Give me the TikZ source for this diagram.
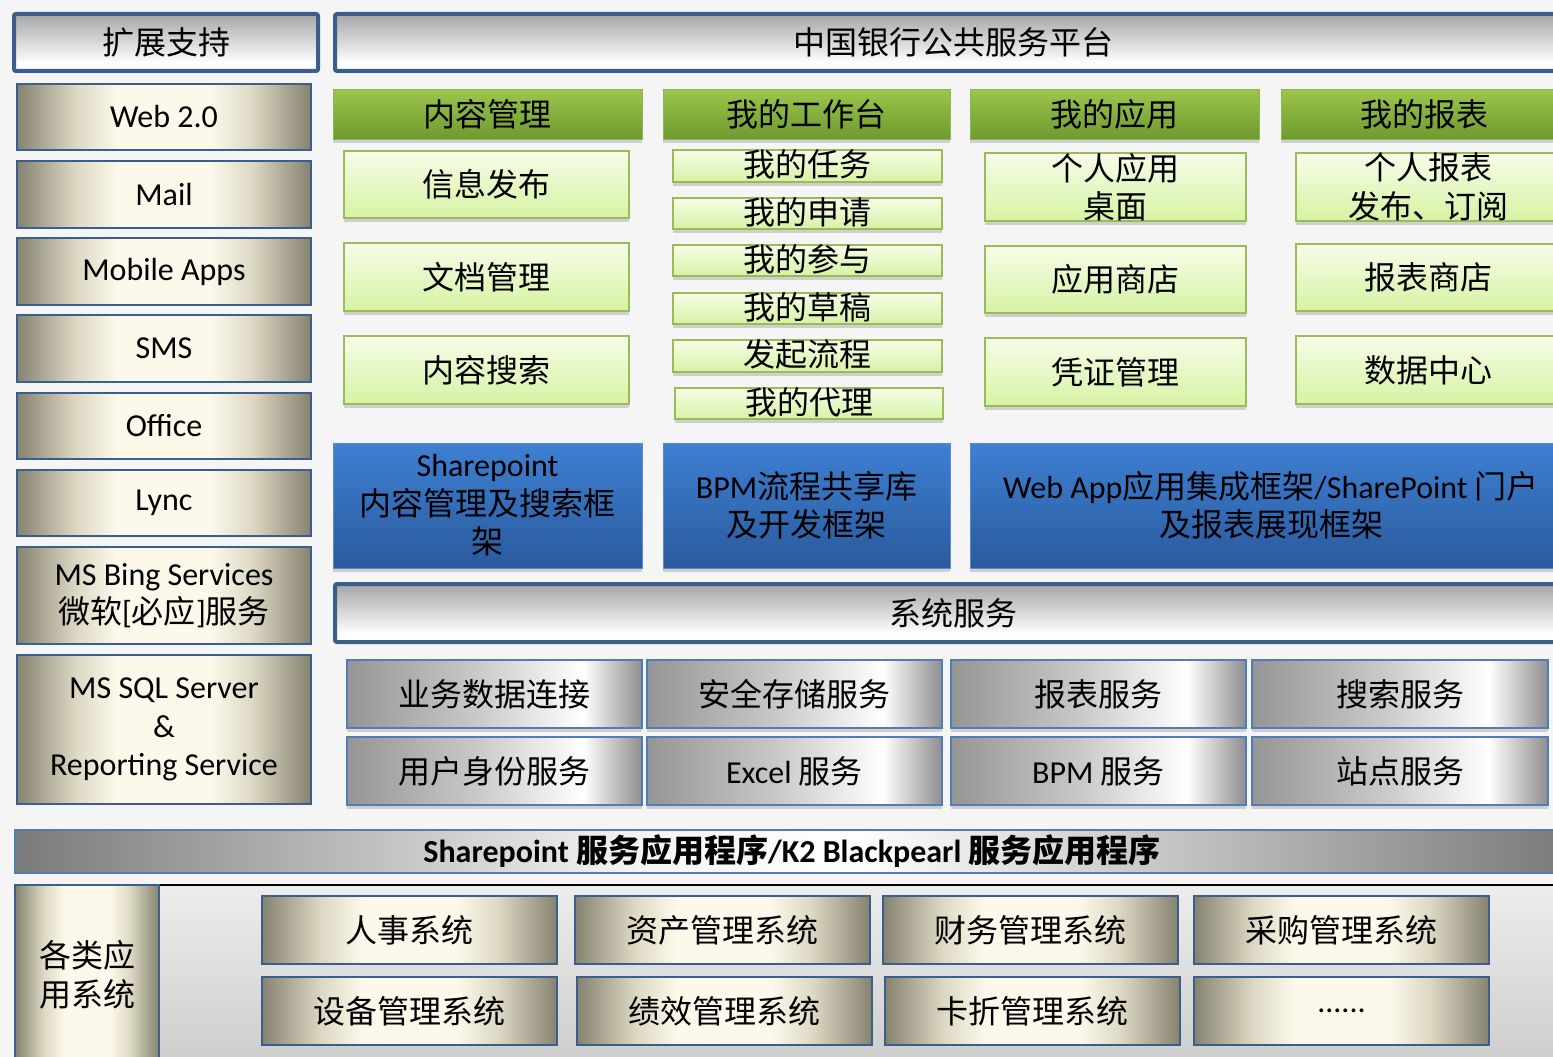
\documentclass[tikz,border=0pt]{standalone}
\usepackage{fontspec}
\setmainfont{Carlito}
\newfontfamily\cjkf{Noto Sans CJK SC}
\newcommand\zh[1]{{\cjkf #1}}
\newcommand\fs{\fontsize{32}{38.5}\selectfont}
\usetikzlibrary{shadows}
\definecolor{bordblue}{HTML}{3B5E8C}
\definecolor{lineblue}{HTML}{4F7DBA}
\definecolor{creamd}{HTML}{858270}
\definecolor{creamm}{HTML}{DCD8C3}
\definecolor{creaml}{HTML}{FCF9EB}
\definecolor{greent}{HTML}{9CC64C}
\definecolor{greenb}{HTML}{6E9A30}
\definecolor{greenbord}{HTML}{8DB551}
\definecolor{lgt}{HTML}{F6FDE9}
\definecolor{lgb}{HTML}{D6F3A3}
\definecolor{lgbord}{HTML}{9BBB59}
\definecolor{bluet}{HTML}{3E80D2}
\definecolor{blueb}{HTML}{2A5A9D}
\definecolor{bluebord}{HTML}{5A8AC8}
\definecolor{tbgray}{HTML}{A6A6A6}
\definecolor{sg1}{HTML}{959595}
\definecolor{sg2}{HTML}{C9C9C9}
\definecolor{sg3}{HTML}{8E8E8E}
\definecolor{bar1}{HTML}{7A7A7A}
\definecolor{bar2}{HTML}{F4F4F4}
\definecolor{pant}{HTML}{EDEDED}
\definecolor{panb}{HTML}{CDCDCD}
\definecolor{bgc}{HTML}{F5F5F5}
\pgfdeclarehorizontalshading{creamsh}{100bp}{color(0bp)=(creamd); color(25bp)=(creamd); color(35bp)=(creamm); color(42bp)=(creaml); color(58bp)=(creaml); color(65bp)=(creamm); color(75bp)=(creamd); color(100bp)=(creamd)}
\pgfdeclareverticalshading{topbar}{100bp}{color(0bp)=(white); color(25bp)=(white); color(32bp)=(white); color(75bp)=(tbgray); color(100bp)=(tbgray)}
\pgfdeclarehorizontalshading{servsh}{100bp}{color(0bp)=(sg1); color(25bp)=(sg1); color(47bp)=(sg2); color(65bp)=(white); color(75bp)=(sg3); color(100bp)=(sg3)}
\pgfdeclarehorizontalshading{barsh}{100bp}{color(0bp)=(bar1); color(25bp)=(bar1); color(45bp)=(bar2); color(52bp)=(white); color(75bp)=(bar1); color(100bp)=(bar1)}
\newcommand\bx[7]{\node[#1, anchor=north west, minimum width={(#5)-(#3)}, minimum height={(#6)-(#4)}] (#2) at (#3,#4) {#7};}
\tikzset{
  myshadow/.style={drop shadow={shadow xshift=0pt, shadow yshift=-4pt, opacity=0.22, fill=black!70}},
  tbar/.style={draw=bordblue, line width=4pt, shading=topbar, rounded corners=2pt},
  cream/.style={draw=bordblue, line width=2.5pt, shading=creamsh},
  ghead/.style={draw=greenbord, line width=1pt, top color=greent, bottom color=greenb, myshadow},
  lgbox/.style={draw=lgbord, line width=1.5pt, top color=lgt, bottom color=lgb, myshadow},
  lgsmall/.style={lgbox, text height=25pt, text depth=4pt},
  bluebox/.style={draw=bluebord, line width=1pt, top color=bluet, bottom color=blueb, myshadow},
  servbox/.style={draw=lineblue, line width=1.5pt, shading=servsh, myshadow},
  sbar/.style={draw=lineblue, line width=1.5pt, shading=barsh, font=\fs\bfseries},
  panel/.style={top color=pant, bottom color=panb},
  appbox/.style={draw=bordblue, line width=2.5pt, shading=creamsh}
}
\begin{document}
\begin{tikzpicture}[x=1pt,y=-1pt, every node/.style={inner sep=0pt, outer sep=0pt, align=center, font=\fs}]
\useasboundingbox (0,0) rectangle (1553,1057);
\clip (0,0) rectangle (1553,1057);
\fill[bgc] (0,0) rectangle (1553,1057);
% top bars
\bx{tbar}{ext}{14}{14}{318}{71}{\zh{扩展支持}}
\bx{tbar}{plat}{335}{14}{1572}{71}{\zh{中国银行公共服务平台}}
% left column
\bx{cream}{web}{17}{84}{311}{150}{Web 2.0}
\bx{cream}{mail}{17}{161}{311}{228}{Mail}
\bx{cream}{mob}{17}{238}{311}{305}{Mobile Apps}
\bx{cream}{sms}{17}{315}{311}{382}{SMS}
\bx{cream}{office}{17}{393}{311}{459}{Office}
\bx{cream}{lync}{17}{470}{311}{536}{Lync}
\bx{cream}{bing}{17}{547}{311}{644}{MS Bing Services\\\zh{微软}[\zh{必应}]\zh{服务}}
\bx{cream}{sql}{17}{655}{311}{804}{MS SQL Server\\\&\\Reporting Service}
% green headers
\bx{ghead}{h1}{333}{89}{642}{139}{\zh{内容管理}}
\bx{ghead}{h2}{663}{89}{950}{139}{\zh{我的工作台}}
\bx{ghead}{h3}{970}{89}{1259}{139}{\zh{我的应用}}
\bx{ghead}{h4}{1281}{89}{1567}{139}{\zh{我的报表}}
% column 1
\bx{lgbox}{c11}{344}{151}{629}{218}{\zh{信息发布}}
\bx{lgbox}{c12}{344}{243}{629}{311}{\zh{文档管理}}
\bx{lgbox}{c13}{344}{336}{629}{404}{\zh{内容搜索}}
% column 2
\bx{lgsmall}{c21}{673}{150}{942}{182}{\zh{我的任务}}
\bx{lgsmall}{c22}{673}{198}{942}{229}{\zh{我的申请}}
\bx{lgsmall}{c23}{673}{245}{942}{276}{\zh{我的参与}}
\bx{lgsmall}{c24}{673}{293}{942}{324}{\zh{我的草稿}}
\bx{lgsmall}{c25}{673}{340}{942}{372}{\zh{发起流程}}
\bx{lgsmall}{c26}{675}{388}{943}{419}{\zh{我的代理}}
% column 3
\bx{lgbox}{c31}{985}{153}{1246}{221}{\zh{个人应用}\\\zh{桌面}}
\bx{lgbox}{c32}{985}{246}{1246}{313}{\zh{应用商店}}
\bx{lgbox}{c33}{985}{338}{1246}{406}{\zh{凭证管理}}
% column 4
\bx{lgbox}{c41}{1296}{153}{1560}{221}{\zh{个人报表}\\\zh{发布、订阅}}
\bx{lgbox}{c42}{1296}{244}{1560}{311}{\zh{报表商店}}
\bx{lgbox}{c43}{1296}{336}{1560}{404}{\zh{数据中心}}
% blue frameworks
\bx{bluebox}{b1}{333}{443}{642}{568}{Sharepoint\\\zh{内容管理及搜索框}\\\zh{架}}
\bx{bluebox}{b2}{663}{443}{950}{568}{BPM\zh{流程共享库}\\\zh{及开发框架}}
\bx{bluebox}{b3}{970}{443}{1572}{568}{Web App\zh{应用集成框架}/SharePoint \zh{门户}\\\zh{及报表展现框架}}
% system services
\bx{tbar}{sys}{335}{584}{1572}{642}{\zh{系统服务}}
\bx{servbox}{s11}{347}{660}{642}{728}{\zh{业务数据连接}}
\bx{servbox}{s12}{647}{660}{942}{728}{\zh{安全存储服务}}
\bx{servbox}{s13}{951}{660}{1246}{728}{\zh{报表服务}}
\bx{servbox}{s14}{1252}{660}{1548}{728}{\zh{搜索服务}}
\bx{servbox}{s21}{347}{737}{642}{805}{\zh{用户身份服务}}
\bx{servbox}{s22}{647}{737}{942}{805}{Excel \zh{服务}}
\bx{servbox}{s23}{951}{737}{1246}{805}{BPM \zh{服务}}
\bx{servbox}{s24}{1252}{737}{1548}{805}{\zh{站点服务}}
% service application bar
\bx{sbar}{spbar}{15}{830}{1569}{873}{Sharepoint \zh{服务应用程序}/K2 Blackpearl \zh{服务应用程序}}
% bottom panel
\bx{panel}{pan}{160}{885}{1560}{1065}{}
\draw[line width=2pt, black] (pan.north west) -- (pan.north east);
\bx{cream}{apps}{15}{885}{159}{1065}{\zh{各类应}\\\zh{用系统}}
\bx{appbox}{a11}{262}{896}{557}{964}{\zh{人事系统}}
\bx{appbox}{a12}{575}{896}{870}{964}{\zh{资产管理系统}}
\bx{appbox}{a13}{883}{896}{1178}{964}{\zh{财务管理系统}}
\bx{appbox}{a14}{1194}{896}{1489}{964}{\zh{采购管理系统}}
\bx{appbox}{a21}{262}{977}{557}{1045}{\zh{设备管理系统}}
\bx{appbox}{a22}{577}{977}{872}{1045}{\zh{绩效管理系统}}
\bx{appbox}{a23}{885}{977}{1180}{1045}{\zh{卡折管理系统}}
\bx{appbox}{a24}{1194}{977}{1489}{1045}{......}
\end{tikzpicture}
\end{document}
